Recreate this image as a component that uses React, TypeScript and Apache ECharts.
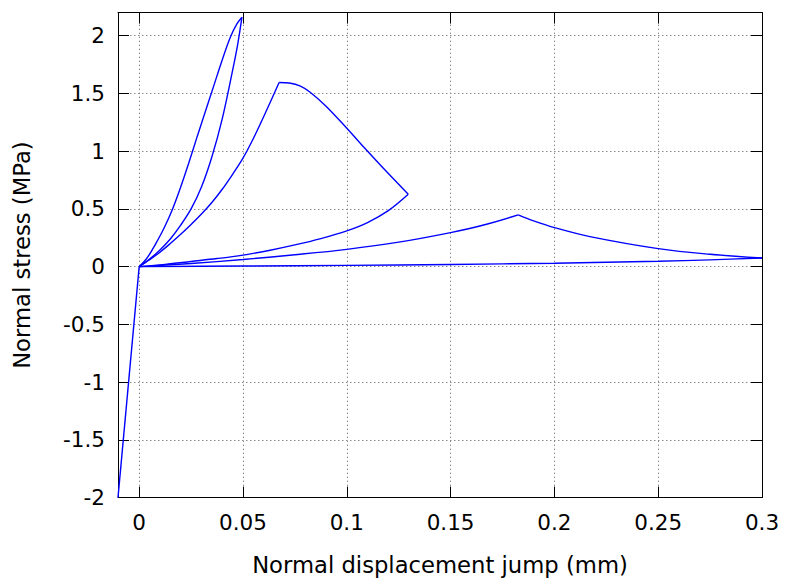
import React, { useEffect, useRef } from "react";
import * as echarts from "echarts";

// Axis ranges and tick settings
const xMin = -0.0102;
const xMax = 0.3;
const yMin = -2;
const yMax = 2.2;
const xTickStep = 0.05;
const yTickStep = 0.5;

// Branches of the traction–separation response, in the order they are traversed
const branchCompression: number[][] = [
  [-0.0102, -2.0],
  [0, 0],
];
const branchLoad1: number[][] = [
  [0, 0], [0.004, 0.08], [0.008, 0.2], [0.012, 0.335], [0.016, 0.495],
  [0.02, 0.69], [0.024, 0.904], [0.028, 1.13], [0.032, 1.35], [0.036, 1.57],
  [0.04, 1.79], [0.044, 1.99], [0.047, 2.1], [0.0495, 2.16],
];
const branchUnload1: number[][] = [
  [0.0495, 2.16], [0.0475, 1.93], [0.045, 1.7], [0.04, 1.28], [0.035, 0.95],
  [0.03, 0.69], [0.025, 0.5], [0.02, 0.36], [0.015, 0.24], [0.01, 0.145],
  [0.005, 0.065], [0, 0],
];
const branchLoad2: number[][] = [
  [0, 0], [0.005, 0.06], [0.01, 0.125], [0.015, 0.2], [0.02, 0.28],
  [0.025, 0.365], [0.03, 0.455], [0.035, 0.555], [0.04, 0.67], [0.045, 0.8],
  [0.05, 0.94], [0.055, 1.11], [0.06, 1.3], [0.0674, 1.595],
];
const branchSoften2: number[][] = [
  [0.0674, 1.595], [0.0723, 1.59], [0.0774, 1.566], [0.0822, 1.513],
  [0.09, 1.39], [0.0997, 1.205], [0.1087, 1.025], [0.1175, 0.855], [0.1296, 0.627],
];
const branchUnload2: number[][] = [
  [0.1296, 0.627], [0.12, 0.485], [0.11, 0.382], [0.1, 0.31], [0.0875, 0.243],
  [0.075, 0.188], [0.0625, 0.14], [0.05, 0.1], [0.0375, 0.07], [0.025, 0.045],
  [0.0125, 0.02], [0, 0],
];
const branchLoad3: number[][] = [
  [0, 0], [0.025, 0.027], [0.05, 0.062], [0.075, 0.103], [0.1, 0.15],
  [0.125, 0.212], [0.15, 0.295], [0.165, 0.356], [0.1826, 0.448],
];
const branchSoften3: number[][] = [
  [0.1826, 0.448], [0.19, 0.396], [0.2, 0.338], [0.2171, 0.26], [0.25, 0.156],
  [0.275, 0.107], [0.3, 0.075],
];
const branchUnload3: number[][] = [
  [0.3, 0.075], [0.275, 0.059], [0.25, 0.047], [0.225, 0.038], [0.2, 0.03],
  [0.15, 0.019], [0.1, 0.011], [0.05, 0.005], [0, 0],
];

const branches = [
  branchCompression, branchLoad1, branchUnload1, branchLoad2, branchSoften2,
  branchUnload2, branchLoad3, branchSoften3, branchUnload3,
];

const xTitle = "Normal displacement jump (mm)";
const yTitle = "Normal stress (MPa)";

const FONT = "DejaVu Sans";

function onStep(v: number, step: number): boolean {
  const k = v / step;
  return Math.abs(k - Math.round(k)) < 1e-6;
}
const fmt = (step: number) => (v: number) =>
  onStep(v, step) ? String(Number(v.toFixed(4))) : "";

export default function App() {
  const ref = useRef<HTMLDivElement>(null);

  useEffect(() => {
    if (!ref.current) return;
    const chart = echarts.init(ref.current, undefined, { renderer: "svg" });

    const axisLine = { onZero: false, lineStyle: { color: "#000", width: 1 } };
    const tick = { inside: true, length: 11, lineStyle: { color: "#000", width: 1 } };
    const grid = {
      show: true,
      lineStyle: { color: "#8c8c8c", width: 1, type: [1.5, 2.5] as number[] },
    };
    const label = { fontSize: 21.5, color: "#000", fontFamily: FONT };
    const nameStyle = { fontSize: 22.7, color: "#000", fontFamily: FONT };

    chart.setOption({
      animation: false,
      backgroundColor: "#fff",
      grid: { left: 118, top: 12.6, width: 644, height: 485 },
      xAxis: [
        {
          type: "value",
          min: xMin,
          max: xMax,
          splitNumber: 6,
          position: "bottom",
          axisLine,
          axisTick: tick,
          axisLabel: { ...label, margin: 14, formatter: fmt(xTickStep) },
          splitLine: grid,
          name: xTitle,
          nameLocation: "middle",
          nameGap: 56,
          nameTextStyle: nameStyle,
        },
        {
          type: "value",
          min: xMin,
          max: xMax,
          splitNumber: 6,
          position: "top",
          axisLine,
          axisTick: tick,
          axisLabel: { show: false },
          splitLine: { show: false },
        },
      ],
      yAxis: [
        {
          type: "value",
          min: yMin,
          max: yMax,
          interval: yTickStep,
          position: "left",
          axisLine,
          axisTick: tick,
          axisLabel: { ...label, margin: 13, formatter: fmt(yTickStep) },
          splitLine: grid,
          name: yTitle,
          nameLocation: "middle",
          nameGap: 85,
          nameTextStyle: nameStyle,
        },
        {
          type: "value",
          min: yMin,
          max: yMax,
          interval: yTickStep,
          position: "right",
          axisLine,
          axisTick: tick,
          axisLabel: { show: false },
          splitLine: { show: false },
        },
      ],
      series: branches.map((b) => ({
        type: "line",
        data: b,
        xAxisIndex: 0,
        yAxisIndex: 0,
        showSymbol: false,
        symbol: "none",
        smooth: 0.35,
        lineStyle: { color: "#0000ff", width: 1.4 },
        z: 3,
      })),
    });

    return () => chart.dispose();
  }, []);

  return (
    <div
      ref={ref}
      style={{ position: "fixed", left: 0, top: 0, width: 785, height: 582, background: "#fff" }}
    />
  );
}
